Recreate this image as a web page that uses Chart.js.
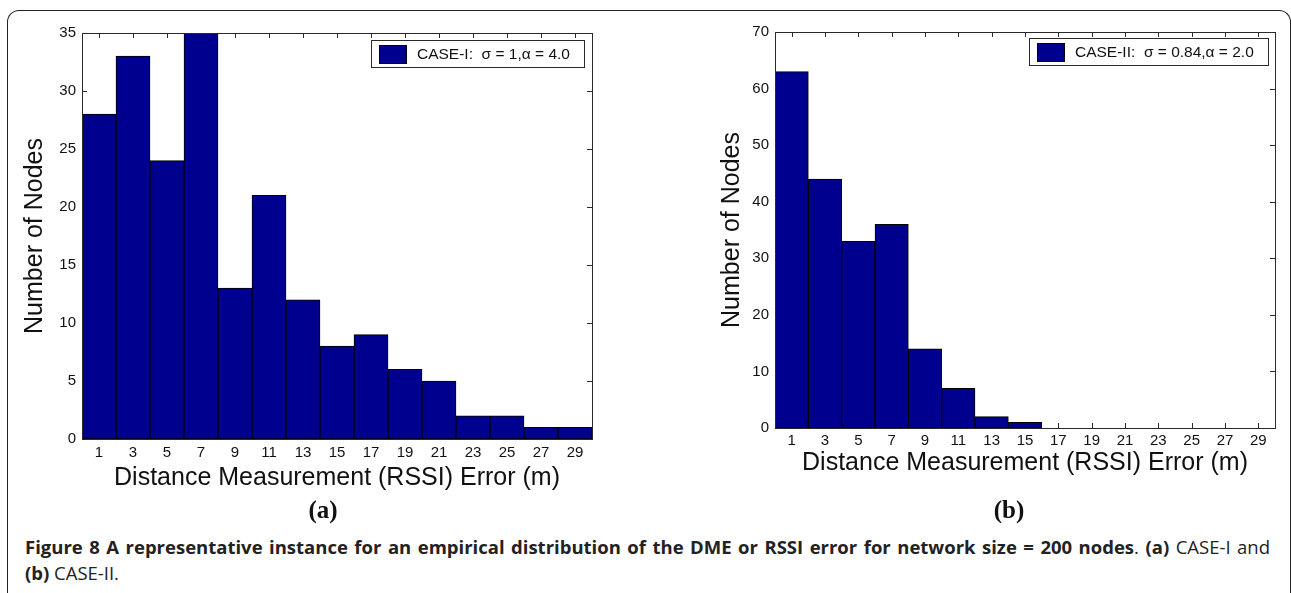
<!DOCTYPE html>
<html>
<head>
<meta charset="utf-8">
<title>Figure 8</title>
<script src="https://cdn.jsdelivr.net/npm/chart.js@4.4.1/dist/chart.umd.min.js"></script>
<style>
    html, body { margin: 0; padding: 0; background: #fff; }
    #page { position: relative; width: 1291px; height: 593px; overflow: hidden; background: #fff; }
    .frame {
        position: absolute; left: 7px; top: 10px; width: 1284px; height: 640px;
        border: 1.5px solid #222; border-bottom: none; border-radius: 12px 12px 0 0;
        box-sizing: border-box;
    }
    #wrapA { position: absolute; left: 0; top: 0; width: 640px; height: 500px; }
    #wrapB { position: absolute; left: 650px; top: 0; width: 641px; height: 500px; }
    .sub {
        position: absolute; top: 495px; width: 80px; margin-left: -40px; text-align: center;
        font: bold 25px/30px "Liberation Serif", "Times New Roman", serif; color: #111;
    }
    .caption {
        position: absolute; left: 25px; top: 534px; width: 1245px;
        font: 18.5px/26px "Open Sans", sans-serif; color: #222;
    }
    .caption .l1 { text-align: justify; text-align-last: justify; white-space: nowrap; }
    .caption b { font-weight: 700; }
</style>
</head>
<body>
<div id="page">
    <div class="frame"></div>
    <div id="wrapA"><canvas id="chartCaseOne"></canvas></div>
    <div id="wrapB"><canvas id="chartCaseTwo"></canvas></div>
    <div class="sub" style="left:323px">(a)</div>
    <div class="sub" style="left:1009px">(b)</div>
    <div class="caption">
        <div class="l1"><b>Figure 8 A representative instance for an empirical distribution of the DME or RSSI error for network size = 200 nodes</b>. <b>(a)</b> CASE-I and</div>
        <div><b>(b)</b> CASE-II.</div>
    </div>
</div>
<script>
// error bins (bar centres, metres)
const errorBins = ['1', '3', '5', '7', '9', '11', '13', '15', '17', '19', '21', '23', '25', '27', '29'];
const caseOneCounts = [28, 33, 24, 35, 13, 21, 12, 8, 9, 6, 5, 2, 2, 1, 1];
const caseTwoCounts = [63, 44, 33, 36, 14, 7, 2, 1, 0, 0, 0, 0, 0, 0, 0];
const caseOneLabel = 'CASE-I:  \u03c3 = 1,\u03b1 = 4.0';
const caseTwoLabel = 'CASE-II:  \u03c3 = 0.84,\u03b1 = 2.0';
const caseOneYMax = 35;
const caseOneYStep = 5;
const caseTwoYMax = 70;
const caseTwoYStep = 10;

const barColor = '#00008f';
const axisColor = '#2a2a2a';
const textColor = '#111';
const tickFont = { family: '"Liberation Sans", Arial, sans-serif', size: 15 };
const titleFont = { family: '"Liberation Sans", Arial, sans-serif', size: 25 };

// matlab style box: inward ticks on all four sides, frame on top of the bars
const matlabBox = {
    id: 'matlabBox',
    beforeDatasetsDraw(chart) {
        const { ctx, chartArea: a, scales: { x, y } } = chart;
        const len = 5;
        ctx.save();
        ctx.strokeStyle = axisColor;
        ctx.lineWidth = 1;
        ctx.beginPath();
        x.ticks.forEach((t, i) => {
            const px = Math.round(x.getPixelForTick(i)) + 0.5;
            ctx.moveTo(px, a.top);
            ctx.lineTo(px, a.top + len);
            ctx.moveTo(px, a.bottom);
            ctx.lineTo(px, a.bottom - len);
        });
        y.ticks.forEach((t, i) => {
            const py = Math.round(y.getPixelForTick(i)) + 0.5;
            ctx.moveTo(a.left, py);
            ctx.lineTo(a.left + len, py);
            ctx.moveTo(a.right, py);
            ctx.lineTo(a.right - len, py);
        });
        ctx.stroke();
        ctx.restore();
    },
    afterDatasetsDraw(chart) {
        const { ctx, chartArea: a } = chart;
        ctx.save();
        ctx.strokeStyle = axisColor;
        ctx.lineWidth = 1;
        ctx.strokeRect(Math.round(a.left) + 0.5, Math.round(a.top) + 0.5,
            Math.round(a.right - a.left), Math.round(a.bottom - a.top));
        ctx.restore();
    },
};

// legend in a bordered box, top right inside the axes
const boxedLegend = {
    id: 'boxedLegend',
    afterDraw(chart, args, opts) {
        const { ctx, chartArea: a } = chart;
        const ds = chart.data.datasets[0];
        ctx.save();
        ctx.font = '15.5px "Liberation Sans", Arial, sans-serif';
        const tw = ctx.measureText(ds.label).width;
        const w = Math.round(8 + 27 + 11 + tw + 14);
        const h = 27;
        const left = Math.round(a.right - opts.inset - w);
        const top = Math.round(a.top + opts.top);
        ctx.fillStyle = '#fff';
        ctx.fillRect(left, top, w, h);
        ctx.strokeStyle = axisColor;
        ctx.lineWidth = 1;
        ctx.strokeRect(left + 0.5, top + 0.5, w, h);
        ctx.fillStyle = ds.backgroundColor;
        ctx.fillRect(left + 8, top + 5, 27, 18);
        ctx.strokeStyle = '#000';
        ctx.strokeRect(left + 8.5, top + 5.5, 27, 18);
        ctx.fillStyle = textColor;
        ctx.textBaseline = 'middle';
        ctx.fillText(ds.label, left + 46, top + h / 2 + 1);
        ctx.restore();
    },
};

function makeHistogram(el, cfg) {
    return new Chart(el, {
        type: 'bar',
        data: {
            labels: errorBins,
            datasets: [
                {
                    label: cfg.label,
                    data: cfg.counts,
                    backgroundColor: barColor,
                    borderColor: '#000',
                    borderWidth: 1,
                    borderSkipped: false,
                    categoryPercentage: 1,
                    barPercentage: 1,
                },
            ],
        },
        options: {
            responsive: true,
            maintainAspectRatio: false,
            animation: false,
            layout: { padding: { left: 0, top: cfg.top, right: cfg.right, bottom: 0 } },
            plugins: {
                legend: { display: false },
                tooltip: { enabled: false },
                boxedLegend: { inset: cfg.legendInset, top: cfg.legendTop },
            },
            scales: {
                x: {
                    grid: { display: false, drawTicks: false },
                    border: { display: false },
                    ticks: { color: textColor, font: tickFont, padding: cfg.xTickPad, maxRotation: 0, autoSkip: false },
                    title: {
                        display: true,
                        text: 'Distance Measurement (RSSI) Error (m)',
                        color: textColor,
                        font: titleFont,
                        padding: { top: 0, bottom: cfg.xTitlePad },
                    },
                    afterFit: (s) => { s.height = cfg.xHeight; },
                },
                y: {
                    min: 0,
                    max: cfg.yMax,
                    grid: { display: false, drawTicks: false },
                    border: { display: false },
                    ticks: { stepSize: cfg.yStep, color: textColor, font: tickFont, padding: 6 },
                    title: {
                        display: true,
                        text: 'Number of Nodes',
                        color: textColor,
                        font: titleFont,
                        padding: { top: cfg.yTitlePad, bottom: 0 },
                    },
                    afterFit: (s) => { s.width = cfg.yWidth; },
                },
            },
        },
        plugins: [matlabBox, boxedLegend],
    });
}

document.addEventListener('DOMContentLoaded', () => {
    makeHistogram(document.getElementById('chartCaseOne'), {
        label: caseOneLabel,
        counts: caseOneCounts,
        yMax: caseOneYMax,
        yStep: caseOneYStep,
        top: 33,
        right: 48,
        yWidth: 82,
        xHeight: 61,
        xTickPad: 4.5,
        xTitlePad: 6.5,
        yTitlePad: 20,
        legendInset: 8,
        legendTop: 7,
    });
    makeHistogram(document.getElementById('chartCaseTwo'), {
        label: caseTwoLabel,
        counts: caseTwoCounts,
        yMax: caseTwoYMax,
        yStep: caseTwoYStep,
        top: 32,
        right: 16,
        yWidth: 125,
        xHeight: 72,
        xTickPad: 4,
        xTitlePad: 21.5,
        yTitlePad: 67,
        legendInset: 7,
        legendTop: 6,
    });
});
</script>
</body>
</html>
